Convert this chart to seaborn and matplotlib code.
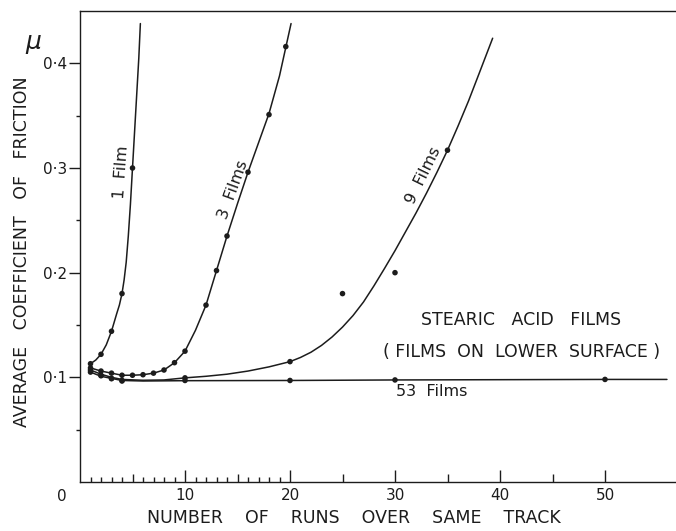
import numpy as np
import pandas as pd
import matplotlib
matplotlib.use("Agg")
import matplotlib.pyplot as plt
import seaborn as sns

# measured points (runs, friction coefficient)
runs_1 = [1, 2, 3, 4, 5]
mu_1 = [0.113, 0.122, 0.144, 0.180, 0.300]

runs_3 = [1, 2, 3, 4, 5, 6, 7, 8, 9, 10, 12, 13, 14, 16, 18, 19.6]
mu_3 = [0.109, 0.106, 0.104, 0.102, 0.102, 0.1025, 0.104, 0.107, 0.114, 0.125,
        0.169, 0.202, 0.235, 0.296, 0.351, 0.416]

runs_9 = [1, 2, 3, 4, 10, 20, 25, 30, 35]
mu_9 = [0.107, 0.102, 0.099, 0.097, 0.0995, 0.115, 0.180, 0.200, 0.317]

runs_53 = [1, 2, 3, 4, 10, 20, 30, 50]
mu_53 = [0.105, 0.1015, 0.0987, 0.0965, 0.097, 0.097, 0.0975, 0.098]

# hand-drawn smooth curves
curve_x_1 = [1, 1.5, 2, 2.5, 3, 3.5, 3.75, 4, 4.2, 4.4, 4.6, 4.8, 5, 5.2, 5.4, 5.6, 5.75]
curve_y_1 = [0.113, 0.1165, 0.122, 0.131, 0.144, 0.161, 0.169, 0.180, 0.193, 0.210,
             0.235, 0.265, 0.300, 0.335, 0.370, 0.405, 0.438]

curve_x_3 = [1, 2, 3, 4, 5, 6, 7, 8, 9, 10, 11, 12, 13, 14, 15, 16, 17, 18, 19, 20.1]
curve_y_3 = [0.109, 0.106, 0.104, 0.102, 0.102, 0.1025, 0.104, 0.107, 0.114, 0.125,
             0.145, 0.169, 0.202, 0.235, 0.266, 0.296, 0.324, 0.352, 0.388, 0.438]

curve_x_9 = [1, 2, 3, 4, 6, 8, 10, 12, 14, 16, 18, 20, 21, 22, 23, 24, 25, 26, 27, 28,
             29, 30, 31, 32, 33, 34, 35, 36, 37, 38, 39.3]
curve_y_9 = [0.107, 0.103, 0.100, 0.098, 0.0972, 0.0975, 0.0995, 0.101, 0.103, 0.106,
             0.110, 0.115, 0.119, 0.124, 0.1305, 0.1385, 0.148, 0.159, 0.172, 0.1875,
             0.204, 0.221, 0.239, 0.257, 0.276, 0.296, 0.317, 0.340, 0.364, 0.390, 0.424]

curve_x_53 = [1, 2, 3, 4, 6, 10, 20, 30, 50, 55.9]
curve_y_53 = [0.105, 0.101, 0.099, 0.097, 0.0965, 0.0968, 0.097, 0.0975, 0.098, 0.098]

ytick_vals = [0.1, 0.2, 0.3, 0.4]
ytick_text = ["0·1", "0·2", "0·3", "0·4"]

ink = "#1c1c1c"

pts = pd.concat([
    pd.DataFrame({"runs": runs_1, "mu": mu_1, "films": "1"}),
    pd.DataFrame({"runs": runs_3, "mu": mu_3, "films": "3"}),
    pd.DataFrame({"runs": runs_9, "mu": mu_9, "films": "9"}),
    pd.DataFrame({"runs": runs_53, "mu": mu_53, "films": "53"}),
])
curves = pd.concat([
    pd.DataFrame({"runs": curve_x_1, "mu": curve_y_1, "films": "1"}),
    pd.DataFrame({"runs": curve_x_3, "mu": curve_y_3, "films": "3"}),
    pd.DataFrame({"runs": curve_x_9, "mu": curve_y_9, "films": "9"}),
    pd.DataFrame({"runs": curve_x_53, "mu": curve_y_53, "films": "53"}),
])

sns.set_style("ticks")
plt.rcParams["font.family"] = ["DejaVu Sans"]

fig = plt.figure(figsize=(6.76, 5.31), dpi=100)
ax = fig.add_axes([80 / 676, 49 / 531, 596 / 676, 471 / 531])

sns.lineplot(data=curves, x="runs", y="mu", units="films", estimator=None, sort=False,
             color=ink, lw=1.1, ax=ax)
sns.scatterplot(data=pts, x="runs", y="mu", color=ink, s=16, edgecolor="none",
                legend=False, ax=ax, zorder=3)

ax.set_xlim(0, 596 / 10.5)
ax.set_ylim(0, 0.45)

# spines
for side in ["left", "bottom", "top"]:
    ax.spines[side].set_linewidth(1.0)
    ax.spines[side].set_color(ink)
ax.spines["right"].set_visible(False)

# x ticks: pointing inwards, three lengths
xt = list(range(5, 55, 5))
ax.set_xticks(xt)
ax.set_xticklabels([str(t) if t % 10 == 0 else "" for t in xt])
ax.set_xticks([i for i in range(1, 20) if i % 5], minor=True)
ax.tick_params(axis="x", which="both", direction="in", color=ink, width=1.0,
               labelsize=11, pad=4, labelcolor=ink)
ax.tick_params(axis="x", which="minor", length=3.5)
for t, tick in zip(xt, ax.xaxis.get_major_ticks()):
    tick.tick1line.set_markersize(8.5 if t % 10 == 0 else 5.5)

# y ticks: outwards
ax.set_yticks(ytick_vals)
ax.set_yticklabels(ytick_text)
ax.set_yticks([0.05, 0.15, 0.25, 0.35], minor=True)
ax.tick_params(axis="y", which="major", direction="out", length=8, width=1.0,
               color=ink, labelsize=11, pad=1, labelcolor=ink)
ax.tick_params(axis="y", which="minor", direction="out", length=3, width=1.0, color=ink)

ax.text(-1.71, -0.0143, "0", ha="center", va="center", fontsize=11, color=ink, clip_on=False)

ax.set_xlabel("NUMBER    OF    RUNS    OVER    SAME    TRACK", fontsize=12.5, color=ink, va="center")
ax.xaxis.set_label_coords(0.46, -0.0764)
ax.set_ylabel("AVERAGE   COEFFICIENT   OF   FRICTION", fontsize=12.5, color=ink, va="center")
ax.yaxis.set_label_coords(-0.0973, 0.49)
ax.text(-0.079, 0.934, "μ", transform=ax.transAxes, fontsize=18, style="italic",
        color=ink, ha="center", va="center")

# curve labels
ax.text(3.95, 0.296, "1  Film", rotation=86, fontsize=11.5, color=ink, ha="center", va="center")
ax.text(14.62, 0.279, "3  Films", rotation=70, fontsize=11.5, color=ink, ha="center", va="center")
ax.text(32.67, 0.293, "9  Films", rotation=64, fontsize=11.5, color=ink, ha="center", va="center")
ax.text(30.1, 0.0862, "53  Films", fontsize=11.5, color=ink, ha="left", va="center")

ax.text(42.04, 0.1547, "STEARIC   ACID   FILMS", fontsize=12.5, color=ink, ha="center", va="center")
ax.text(42.04, 0.1245, "( FILMS  ON  LOWER  SURFACE )", fontsize=12.5, color=ink,
        ha="center", va="center")

fig.savefig("out.png", dpi=100)
